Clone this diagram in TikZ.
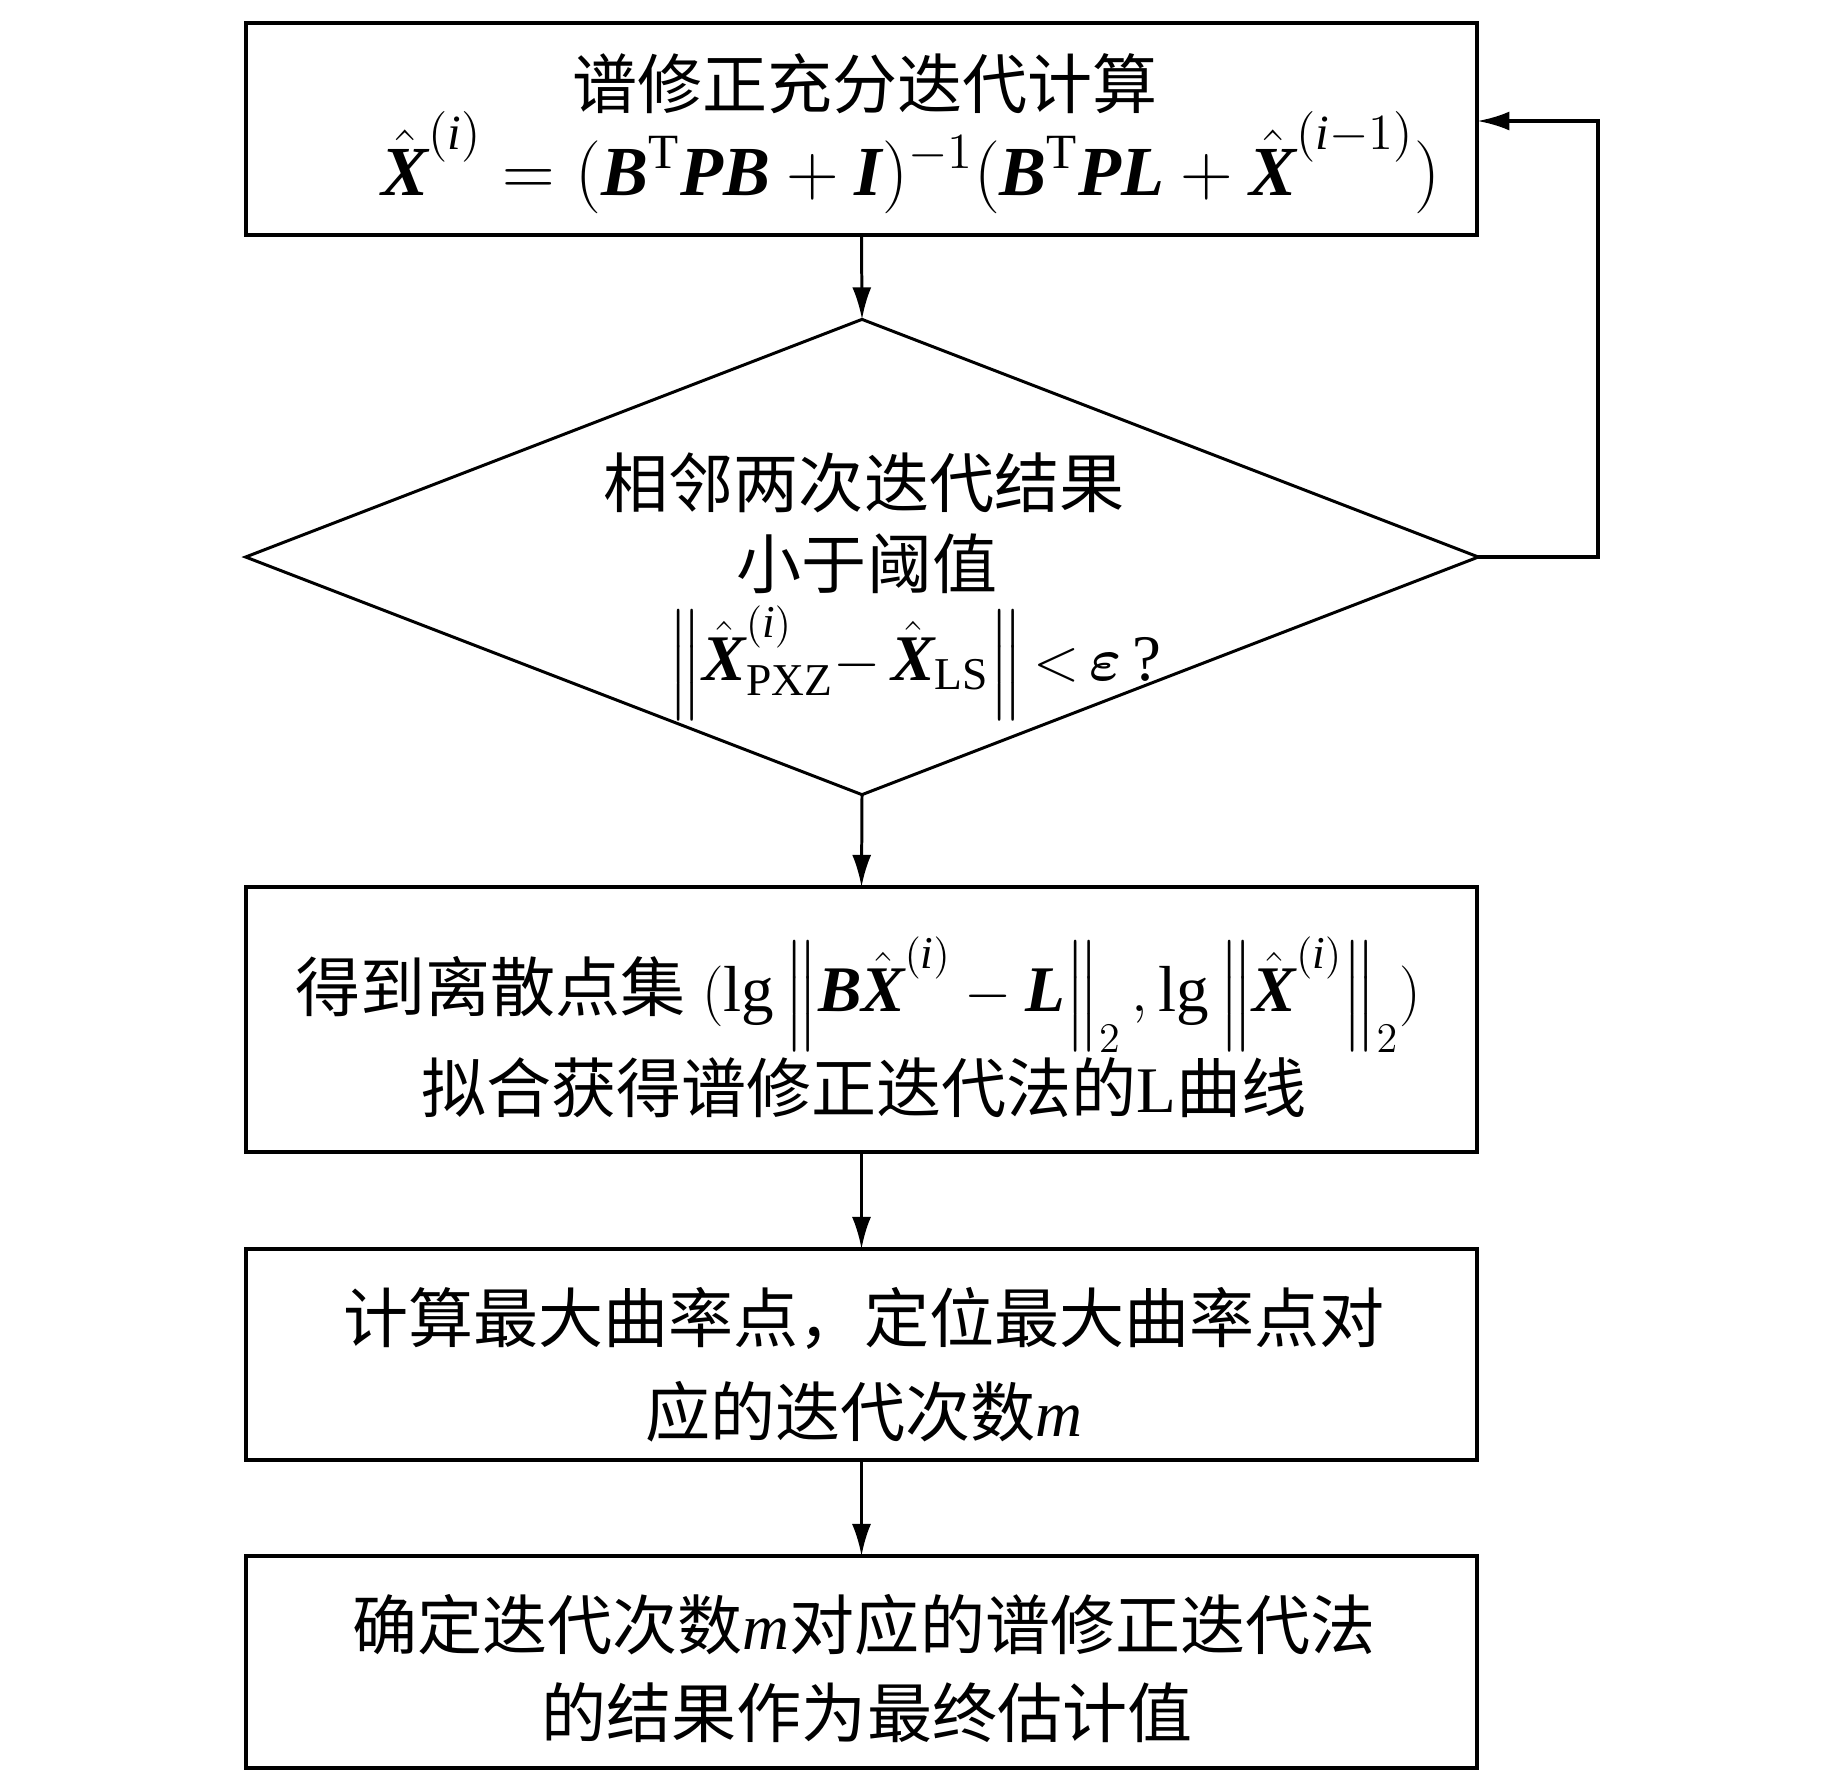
\documentclass[tikz,border=0pt]{standalone}
\usepackage{amsmath}
\usepackage{fontspec}
\setmainfont{Liberation Serif}
\newfontfamily\cjkf{Noto Sans CJK SC}
\usetikzlibrary{arrows.meta,shapes.geometric}
\newcommand\bv[1]{\text{\normalfont\bfseries\itshape #1}}
\newcommand\iv[1]{\text{\normalfont\itshape #1}}
\newcommand\zh[1]{{\cjkf #1}}
\begin{document}
\begin{tikzpicture}[x=0.01cm,y=-0.01cm,
  boxnode/.style={draw, line width=1.15pt, minimum width=12.31cm, inner sep=0pt, outer sep=0pt},
  decnode/.style={draw, diamond, line width=0.85pt, minimum width=12.32cm, minimum height=4.75cm, inner sep=0pt, outer sep=0pt},
  txt/.style={anchor=base, inner sep=0pt, font=\fontsize{18.5}{22}\selectfont},
  bigtxt/.style={anchor=base, inner sep=0pt, font=\fontsize{20}{24}\selectfont},
  flow/.style={line width=0.85pt, -{Latex[length=3.2mm,width=1.9mm]}},
  fb/.style={line width=1pt, -{Latex[length=3.2mm,width=1.9mm]}}]
\useasboundingbox (0,0) rectangle (1843,1772);

\node[boxnode, minimum height=2.12cm] (box1) at (861.5,129) {};
\node[txt] (t1a) at (865,108) {\zh{谱修正充分迭代计算}};
\node[bigtxt] (t1b) at (911,195) {$\hat{\bv{X}}^{(\iv{i})} = (\bv{B}^{\mathrm{T}}\bv{PB} + \bv{I})^{-1}(\bv{B}^{\mathrm{T}}\bv{PL} + \hat{\bv{X}}^{(\iv{i}-1)})$};

\node[decnode] (dia) at (862,557) {};
\node[txt] (t2a) at (864,507) {\zh{相邻两次迭代结果}};
\node[txt] (t2b) at (867,588) {\zh{小于阈值}};
\node[txt] (t2c) at (915,680) {$\left\|\hat{\bv{X}}^{(\iv{i})}_{\mathrm{PXZ}}{-}\,\hat{\bv{X}}_{\mathrm{LS}}\right\|{<}\,\boldsymbol{\varepsilon}\,\text{?}$};

\node[boxnode, minimum height=2.65cm] (box3) at (861.5,1019.5) {};
\node[txt] (t3a) at (858,1011) {\zh{得到离散点集} $(\lg\left\|\bv{B}\hat{\bv{X}}^{(\iv{i})} - \bv{L}\right\|_2, \lg\left\|\hat{\bv{X}}^{(\iv{i})}\right\|_2)$};
\node[txt] (t3b) at (864,1112) {\zh{拟合获得谱修正迭代法的}L\zh{曲线}};

\node[boxnode, minimum height=2.11cm] (box4) at (861.5,1354.5) {};
\node[txt] (t4a) at (864,1342) {\zh{计算最大曲率点，定位最大曲率点对}};
\node[txt] (t4b) at (864,1436) {\zh{应的迭代次数}\textit{m}};

\node[boxnode, minimum height=2.12cm] (box5) at (861.5,1662) {};
\node[txt] (t5a) at (864,1649) {\zh{确定迭代次数}\textit{m}\zh{对应的谱修正迭代法}};
\node[txt] (t5b) at (867,1737) {\zh{的结果作为最终估计值}};

\draw[flow] (box1.south) -- (dia.north);
\draw[flow] (dia.south) -- (box3.north);
\draw[flow] (box3.south) -- (box4.north);
\draw[flow] (box4.south) -- (box5.north);
\coordinate (fbc) at (1598,121);
\draw[fb] (dia.east) -| (fbc) -- (fbc -| box1.east);
\end{tikzpicture}
\end{document}
